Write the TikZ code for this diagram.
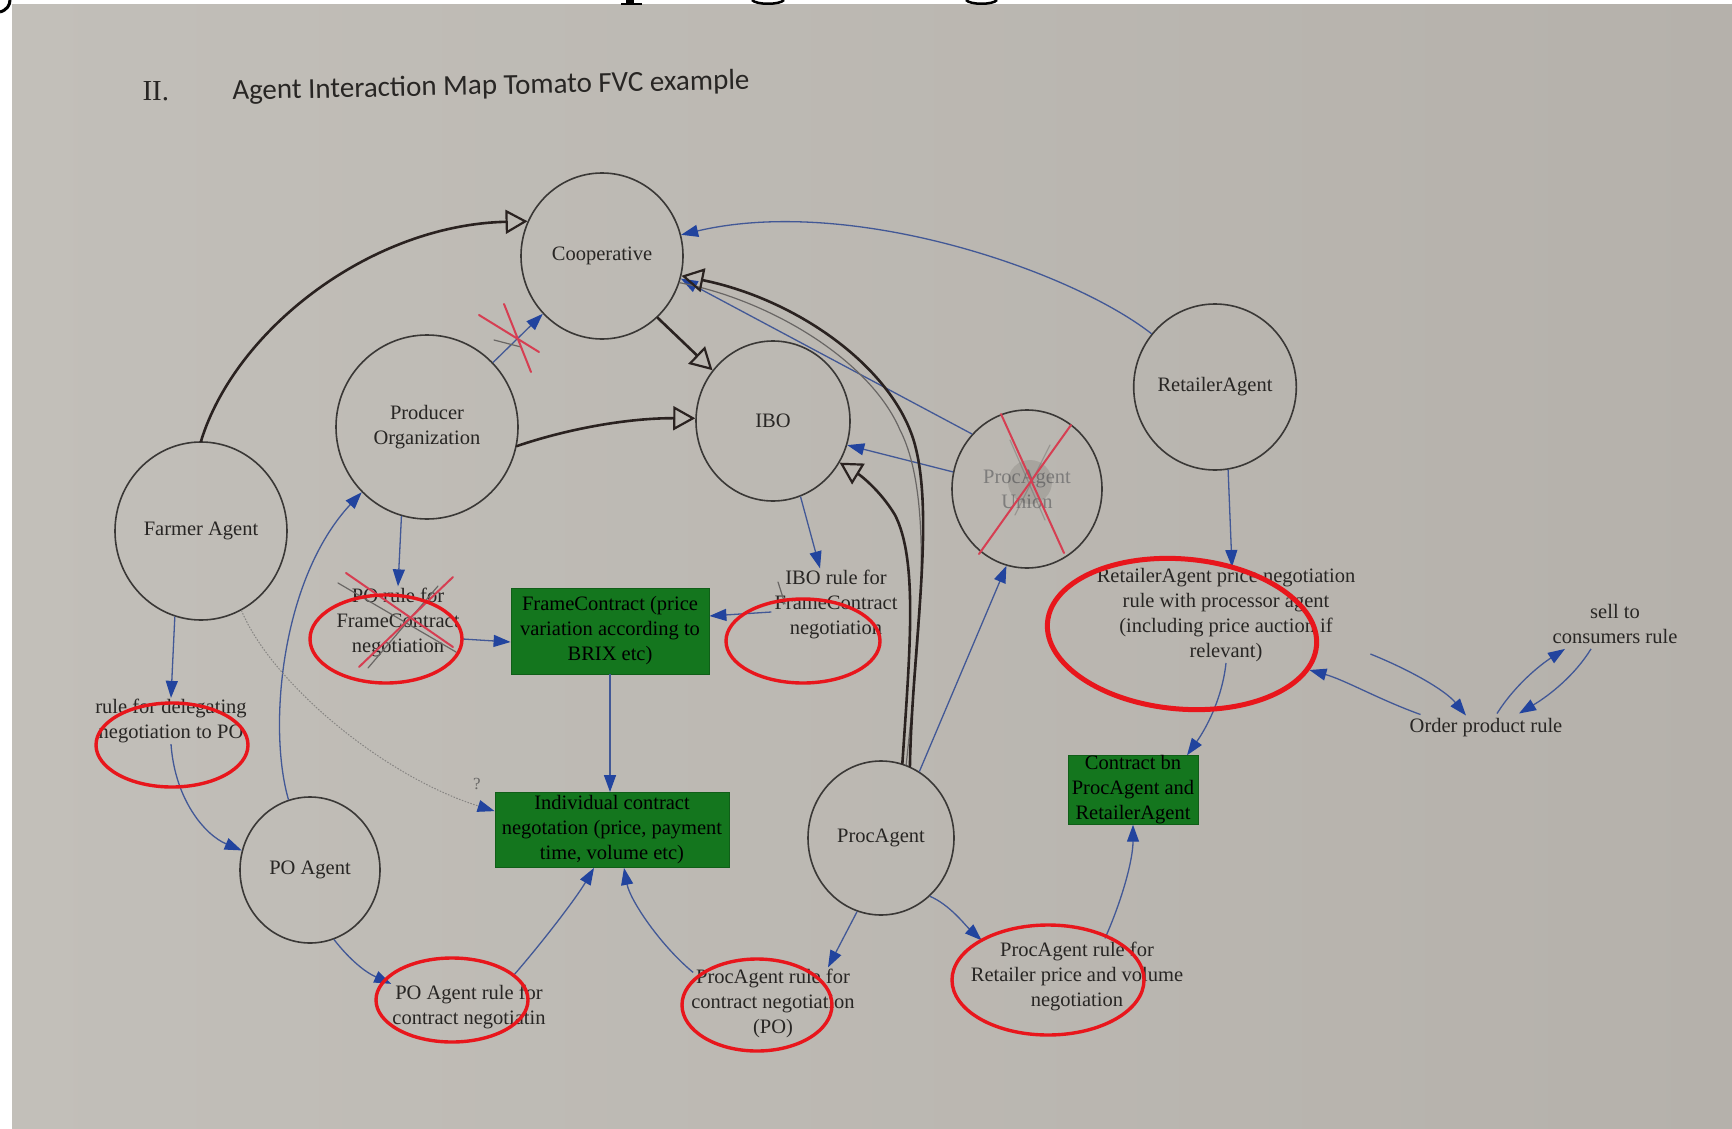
\documentclass[tikz,border=0pt]{standalone}
\usepackage{fontspec}
\setmainfont{Liberation Serif}
\newfontfamily\headsans{Carlito}
\usetikzlibrary{shapes.geometric,arrows.meta,calc}

\definecolor{paperL}{RGB}{194,191,185}
\definecolor{paperR}{RGB}{181,177,171}
\definecolor{ink}{RGB}{40,38,36}
\definecolor{rim}{RGB}{58,56,54}
\definecolor{wire}{RGB}{66,88,150}
\definecolor{tipblue}{RGB}{34,68,158}
\definecolor{dealgreen}{RGB}{20,118,30}
\definecolor{marker}{RGB}{232,22,28}
\definecolor{crossred}{RGB}{214,62,82}
\definecolor{penink}{RGB}{42,34,32}
\definecolor{pencil}{RGB}{105,102,100}

\newcommand\diagfont{\fontsize{20.5pt}{25pt}\selectfont}

\begin{document}
\begin{tikzpicture}[x=1pt,y=-1pt,
  agent/.style={ellipse, draw=rim, line width=1.6pt, inner sep=0pt, font=\diagfont, text=ink, align=center},
  deal/.style={rectangle, fill=dealgreen, draw=dealgreen!80!black, line width=0.8pt, inner sep=0pt, font=\diagfont, text=black, align=center},
  rulebox/.style={inner sep=1pt, font=\diagfont, text=ink, align=center},
  link/.style={draw=wire, line width=1.3pt, -{Triangle[length=17pt,width=12pt,color=tipblue]}},
  hint/.style={draw=pencil!80, line width=1pt, dash pattern=on 1.5pt off 1.5pt, -{Triangle[length=17pt,width=12pt,color=tipblue]}},
  pen/.style={draw=penink, line width=2.6pt, line cap=round, -{Triangle[open,length=22pt,width=24pt,line width=2.2pt]}},
  ring/.style={draw=marker, line width=3.4pt},
  cross/.style={draw=crossred, line width=2pt, line cap=round},
  graphite/.style={draw=pencil, line width=1.2pt, line cap=round}
]

% page and paper
\useasboundingbox (0,0) rectangle (1732,1129);
\fill[white] (0,0) rectangle (1732,1129);
\shade[left color=paperL, right color=paperR] (12,5) rectangle (1732,1129);

% bottoms of the large heading letters above the sheet
\draw[black, line width=3pt] (0,12) .. controls (7,10) and (10,5) .. (10,0);
\fill[black] (626,0) rectangle (634,3);
\fill[black] (621,3) rectangle (642,5);
\draw[black, line width=2.5pt] (752,0) .. controls (756,5) and (780,5) .. (784,0);
\draw[black, line width=2.5pt] (966,0) .. controls (970,5) and (993,5) .. (997,0);

% heading
\node[anchor=base west, font=\fontsize{29pt}{34pt}\selectfont, text=ink] (sect) at (139,101) {II.};
\node[anchor=base west, rotate=1.2, font=\headsans\fontsize{29pt}{34pt}\selectfont, text=ink] (title) at (229,100) {Agent Interaction Map Tomato FVC example};

% agents
\node[agent, minimum width=162pt, minimum height=166pt] (coop) at (602,256) {Cooperative};
\node[agent, minimum width=182pt, minimum height=184pt] (po) at (427,427) {Producer\\Organization};
\node[agent, minimum width=172pt, minimum height=178pt] (farmer) at (201,531) {Farmer Agent};
\node[agent, minimum width=154pt, minimum height=160pt] (ibo) at (773,421) {IBO};
\node[agent, minimum width=150pt, minimum height=158pt, text=ink!60] (union) at (1027,489) {ProcAgent\\Union};
\node[agent, minimum width=160pt, minimum height=166pt] (retailer) at (1215,387) {RetailerAgent};
\node[agent, minimum width=140pt, minimum height=146pt] (poagent) at (310,870) {PO Agent};
\node[agent, minimum width=146pt, minimum height=154pt] (proc) at (881,838) {ProcAgent};

% contracts
\node[deal, minimum width=198pt, minimum height=86pt] (frame) at (610,631) {FrameContract (price\\variation according to\\BRIX etc)};
\node[deal, minimum width=234pt, minimum height=75pt] (indiv) at (612,830) {Individual contract\\negotation (price, payment\\time, volume etc)};
\node[deal, minimum width=130pt, minimum height=68pt] (cbn) at (1133,790) {Contract bn\\ProcAgent and\\RetailerAgent};

% rules
\node[rulebox] (porule) at (398,622) {PO rule for\\FrameContract\\negotiation};
\node[rulebox] (deleg) at (171,721) {rule for delegating\\negotiation to PO};
\node[rulebox] (iborule) at (836,604) {IBO rule for\\FrameContract\\negotiation};
\node[rulebox] (retrule) at (1226,615) {RetailerAgent price negotiation\\rule with processor agent\\(including price auction if\\relevant)};
\node[rulebox] (sell) at (1615,624) {sell to\\consumers rule};
\node[rulebox] (order) at (1486,728) {Order product rule};
\node[rulebox] (poarule) at (469,1007) {PO Agent rule for\\contract negotiatin};
\node[rulebox] (procpo) at (773,1003) {ProcAgent rule for\\contract negotiation\\(PO)};
\node[rulebox] (procret) at (1077,976) {ProcAgent rule for\\Retailer price and volume\\negotiation};
\node[rulebox, text=ink!70, font=\fontsize{17pt}{20pt}\selectfont] (qmark) at (477,784) {?};

% printed connectors
\draw[link] (po) -- (coop);
\draw[link] (po.-106) -- (porule.north);
\draw[link] ($(porule.east)+(2,17)$) -- ($(frame.west)+(0,11)$);
\draw[link] ($(iborule.west)+(-2,8)$) -- ($(frame.east)+(0,-15)$);
\draw[link] (ibo.-70) -- ($(iborule.north)+(-16,0)$);
\draw[link] (frame.south) -- (frame.south |- indiv.north);
\draw[link] (farmer.-107) -- (deleg.north);
\draw[link] (deleg.south) .. controls (175,800) and (205,835) .. (poagent.164);
\draw[link] (poagent.107) .. controls (268,730) and (280,580) .. (po.225);
\draw[hint] (farmer.-63) .. controls (270,680) and (380,775) .. ($(indiv.north west)+(0,19)$);
\draw[link] (poagent.-71) .. controls (350,960) and (365,972) .. (poarule.north west);
\draw[link] ($(poarule.north)+(45,-9)$) .. controls (540,945) and (575,900) .. ($(indiv.south)+(-18,0)$);
\draw[link] ($(procpo.north west)+(3,5)$) .. controls (660,945) and (630,900) .. ($(indiv.south)+(12,0)$);
\draw[link] (proc.-108) -- ($(procpo.north)+(55,0)$);
\draw[link] (proc.-50) .. controls (950,905) and (965,925) .. ($(procret.north west)+(12,0)$);
\draw[link] ($(procret.north)+(28,-2)$) .. controls (1122,900) and (1133,860) .. (cbn.south);
\draw[link] (proc.60) -- (union.-105);
\draw[link] (union.167) -- (ibo.-18);
\draw[link] (union.135) -- (coop.-16);
\draw[link] (retailer.140) .. controls (1070,270) and (850,195) .. (coop.15);
\draw[link] (retailer.-81) -- ($(retrule.north)+(6,0)$);
\draw[link] (retrule.south) .. controls (1222,700) and (1205,730) .. ($(cbn.north)+(54,0)$);
\draw[link] ($(order.north west)+(12,-3)$) .. controls (1380,700) and (1345,680) .. ($(retrule.east)+(-47,55)$);
\draw[link] ($(retrule.east)+(14,39)$) .. controls (1410,670) and (1445,690) .. ($(order.north)+(-20,-2)$);
\draw[link] ($(order.north)+(11,-4)$) .. controls (1515,685) and (1540,665) .. ($(sell.south)+(-50,4)$);
\draw[link] ($(sell.south)+(-24,4)$) .. controls (1575,675) and (1550,695) .. ($(order.north)+(33,-4)$);

% pencil guide lines
\draw[graphite] (proc.71) .. controls (918,650) and (936,500) .. (900,430) .. controls (870,360) and (770,300) .. (coop.-19);
\draw[graphite] (494,340) -- (521,347);
\draw[graphite] (338,583) -- (456,652);
\draw[graphite] (438,586) -- (368,668);
\draw[graphite] (778,582) -- (785,604);

% pen strokes
\draw[pen] (farmer.north) .. controls (235,330) and (370,225) .. (coop.155);
\draw[pen] (po.-12) .. controls (570,428) and (630,418) .. (ibo.178);
\draw[pen] (coop.-48) -- (ibo.140);
\draw[pen] (proc.68) .. controls (912,650) and (935,520) .. (915,445) .. controls (895,370) and (800,300) .. (coop.-14);
\draw[pen] (proc.74) .. controls (910,650) and (918,560) .. (895,515) .. controls (880,490) and (860,475) .. (ibo.-32);

% smudge over the struck-out union
\fill[black, opacity=0.10] (1030,482) circle[radius=22pt];
\draw[graphite, opacity=0.4] (1010,440) -- (1045,520);
\draw[graphite, opacity=0.4] (1050,445) -- (1015,515);

% strike-outs
\draw[cross] (479,315) -- (539,352);
\draw[cross] (504,304) -- (531,372);
\draw[cross] (346,573) -- (453,647);
\draw[cross] (453,577) -- (359,667);
\draw[cross] (1001,414) -- (1064,553);
\draw[cross] (1071,425) -- (979,554);

% red rings
\draw[ring] (386,639) ellipse [x radius=76pt, y radius=44pt];
\draw[ring] (172,745) ellipse [x radius=76pt, y radius=42pt];
\draw[ring] (803,641) ellipse [x radius=77pt, y radius=42pt];
\draw[ring, line width=5pt, rotate around={-5:(1182,634)}] (1182,634) ellipse [x radius=135pt, y radius=75pt];
\draw[ring] (452,1000) ellipse [x radius=76pt, y radius=42pt];
\draw[ring] (757,1005) ellipse [x radius=75pt, y radius=46pt];
\draw[ring] (1048,980) ellipse [x radius=96pt, y radius=55pt];
\end{tikzpicture}
\end{document}
